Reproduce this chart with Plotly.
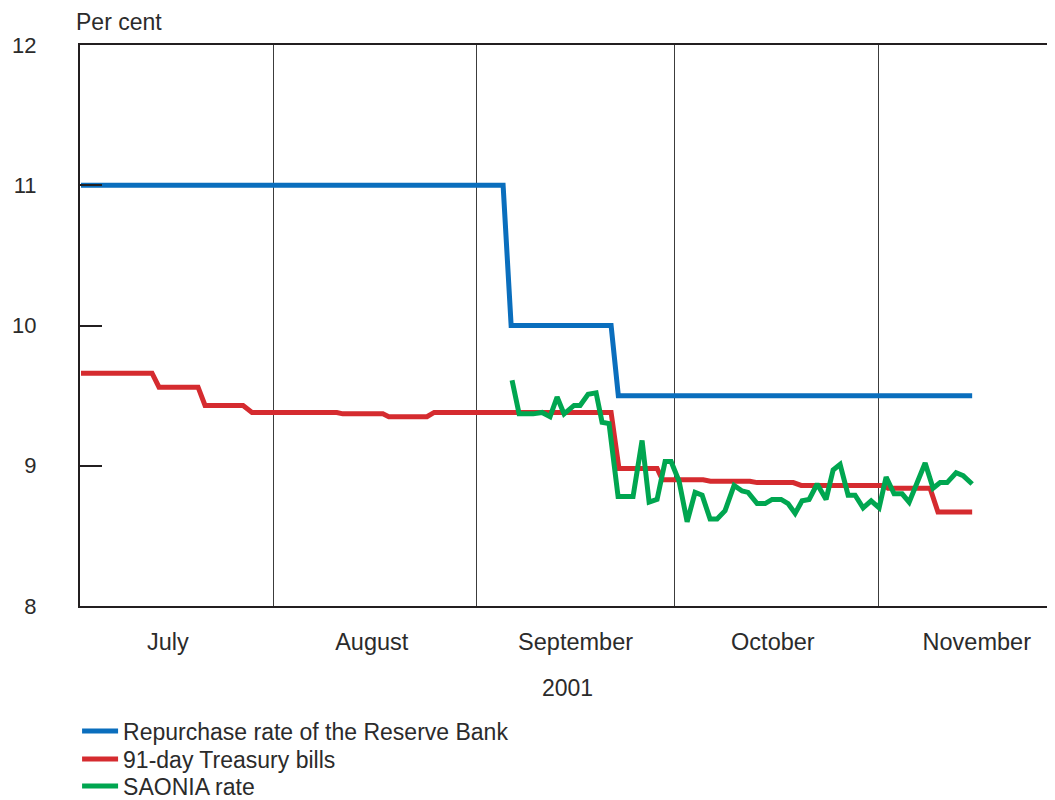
import pandas as pd
import plotly.graph_objects as go

BASE = pd.Timestamp("2001-07-01")

# Days after 1 July 2001 (fractional) and values in per cent
repo_day = [1.8, 65.98, 67.2, 82.4, 83.5, 137.3]
repo_val = [11.0, 11.0, 10.0, 10.0, 9.5, 9.5]

tbill_day = [1.8, 12.6, 13.66, 19.6, 20.66, 26.44, 27.8, 40.7, 41.6, 47.7, 48.6, 54.4,
             55.5, 82.4, 83.6, 89.4, 90.2, 96.4, 97.5, 103.5, 104.6, 110.1, 111.3,
             123.8, 124.5, 130.9, 132.1, 137.3]
tbill_val = [9.66, 9.66, 9.56, 9.56, 9.43, 9.43, 9.38, 9.38, 9.37, 9.37, 9.35, 9.35,
             9.38, 9.38, 8.98, 8.98, 8.90, 8.90, 8.89, 8.89, 8.88, 8.88, 8.86,
             8.86, 8.84, 8.84, 8.67, 8.67]

saonia_day = [67.34, 68.41, 70.54, 71.91, 73.12, 74.19, 75.25, 76.77, 77.69, 78.90,
              80.12, 81.03, 82.09, 83.46, 85.74, 87.11, 88.18, 89.39, 90.61, 91.52,
              92.74, 93.96, 95.17, 96.24, 97.45, 98.52, 99.73, 101.10, 102.32, 103.23,
              104.60, 105.82, 106.88, 108.25, 109.31, 110.38, 111.44, 112.51, 113.73,
              115.09, 116.16, 117.22, 118.44, 119.50, 120.72, 121.94, 123.15, 124.22,
              125.43, 126.65, 127.72, 130.15, 131.36, 132.43, 133.49, 134.86, 135.93,
              137.30]
saonia_val = [9.61, 9.37, 9.37, 9.38, 9.35, 9.49, 9.37, 9.43, 9.43, 9.51,
              9.52, 9.31, 9.30, 8.78, 8.78, 9.18, 8.74, 8.76, 9.03, 9.03,
              8.89, 8.60, 8.81, 8.79, 8.62, 8.62, 8.68, 8.86, 8.82, 8.81,
              8.73, 8.73, 8.76, 8.76, 8.73, 8.66, 8.75, 8.76, 8.87,
              8.76, 8.97, 9.01, 8.79, 8.79, 8.70, 8.75, 8.70, 8.92,
              8.80, 8.80, 8.74, 9.02, 8.84, 8.88, 8.88, 8.95, 8.93,
              8.87]

month_labels = ["July", "August", "September", "October", "November"]
month_label_dates = ["2001-07-16", "2001-08-16", "2001-09-16", "2001-10-16", "2001-11-16"]
y_ticks = [8, 9, 10, 11, 12]


def to_dates(days):
    return BASE + pd.to_timedelta(days, unit="D")


FONT = "Liberation Sans, Arial, sans-serif"
TXT = "#2b2b2b"

fig = go.Figure()
fig.add_trace(go.Scatter(x=to_dates(repo_day), y=repo_val, mode="lines",
                         name="Repurchase rate of the Reserve Bank", legend="legend",
                         line=dict(color="#0a6ebd", width=5)))
fig.add_trace(go.Scatter(x=to_dates(tbill_day), y=tbill_val, mode="lines",
                         name="91-day Treasury bills", legend="legend2",
                         line=dict(color="#d52b2f", width=5)))
fig.add_trace(go.Scatter(x=to_dates(saonia_day), y=saonia_val, mode="lines",
                         name="SAONIA rate", legend="legend3",
                         line=dict(color="#00a650", width=5)))


def legend_at(yc):
    return dict(x=-0.003, xanchor="left", y=yc, yanchor="middle",
                orientation="v", font=dict(family=FONT, size=23, color=TXT),
                itemwidth=36, bgcolor="rgba(0,0,0,0)", borderwidth=0)


# page body has an 8px margin, so the figure is sized/offset to compensate
fig.update_layout(
    width=1047, height=792,
    margin=dict(l=72, r=0, t=37, b=194, autoexpand=False),
    paper_bgcolor="white", plot_bgcolor="white",
    font=dict(family=FONT, size=22, color=TXT),
    showlegend=True,
    legend=legend_at(-0.2228),
    legend2=legend_at(-0.2727),
    legend3=legend_at(-0.3209),
    annotations=[dict(text="Per cent", xref="paper", yref="paper", x=0, y=1,
                      xanchor="left", yanchor="bottom", xshift=-6, yshift=8,
                      showarrow=False, font=dict(family=FONT, size=23, color=TXT))],
)

fig.update_xaxes(
    type="date", automargin=False,
    range=["2001-07-02 15:30", "2001-11-27 21:30"],
    tickvals=month_label_dates, ticktext=month_labels,
    ticks="", showgrid=False, zeroline=False,
    showline=True, linecolor="#231f20", linewidth=2, mirror=True,
    ticklabelstandoff=14,
    tickfont=dict(family=FONT, size=23.5, color=TXT),
    title=dict(text="2001", standoff=26, font=dict(family=FONT, size=23, color=TXT)),
    minor=dict(dtick="M1", tick0="2001-07-01", showgrid=True,
               gridcolor="#3c3c3c", gridwidth=1, ticks=""),
)
fig.update_yaxes(
    range=[8, 12], tickvals=y_ticks, automargin=False,
    ticks="inside", ticklen=22, tickwidth=2, tickcolor="#231f20",
    showgrid=False, zeroline=False,
    showline=True, linecolor="#231f20", linewidth=2, mirror=False,
    ticklabelstandoff=37,
    tickfont=dict(family=FONT, size=22, color=TXT),
)

fig.write_html("out.html")
